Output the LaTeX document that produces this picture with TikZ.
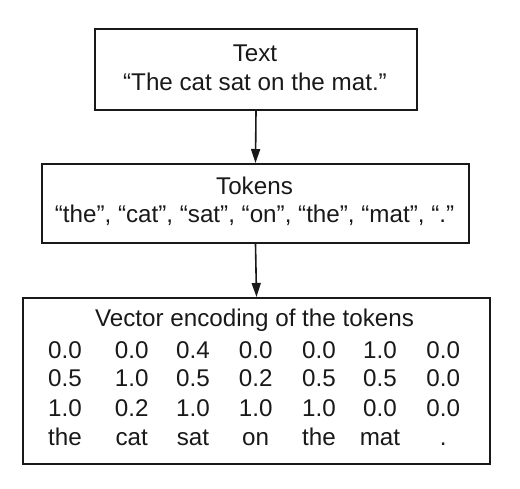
\documentclass[tikz,border=0pt]{standalone}
\usepackage{fontspec}
\setmainfont{Liberation Sans}
\usetikzlibrary{arrows.meta}
\begin{document}
\begin{tikzpicture}[x=1pt,y=-1pt,
  box/.style={draw=black!90, line width=2pt, inner sep=0pt, anchor=north west},
  lbl/.style={anchor=base, inner sep=0pt, font=\fontsize{24.2}{28}\selectfont, text=black!90},
  conn/.style={line width=1.6pt, draw=black!90, -{Triangle[length=14pt,width=9pt]}}]
\useasboundingbox (0,0) rectangle (520,488);
% boxes
\node[box, minimum width=322pt, minimum height=81pt] (b1) at (94,28) {};
\node[box, minimum width=427pt, minimum height=79pt] (b2) at (41,163) {};
\node[box, minimum width=467pt, minimum height=166pt] (b3) at (22,297) {};
% box 1 text
\node[lbl] (t1) at (255,61) {Text};
\node[lbl] (t2) at (255,90) {“The cat sat on the mat.”};
% box 2 text
\node[lbl] (k1) at (254.5,194.3) {Tokens};
\node[lbl] (k2) at (254.5,222.7) {“the”, “cat”, “sat”, “on”, “the”, “mat”, “.”};
% box 3 text
\node[lbl] (v0) at (254.5,326.7) {Vector encoding of the tokens};
\foreach \x/\a/\b/\c/\w [count=\i] in {65/0.0/0.5/1.0/the, 131.7/0.0/1.0/0.2/cat, 193/0.4/0.5/1.0/sat, 255.7/0.0/0.2/1.0/on, 319/0.0/0.5/1.0/the, 380/1.0/0.5/0.0/mat, 443.3/0.0/0.0/0.0/.}{
  \node[lbl] (ra\i) at (\x,358.3) {\a};
  \node[lbl] (rb\i) at (\x,386.7) {\b};
  \node[lbl] (rc\i) at (\x,416) {\c};
  \node[lbl] (rw\i) at (\x,445) {\w};
}
% connectors
\draw[conn] (b1.south) -- (b2.north);
\draw[conn] (b2.south) -- (b3.north);
\end{tikzpicture}
\end{document}
